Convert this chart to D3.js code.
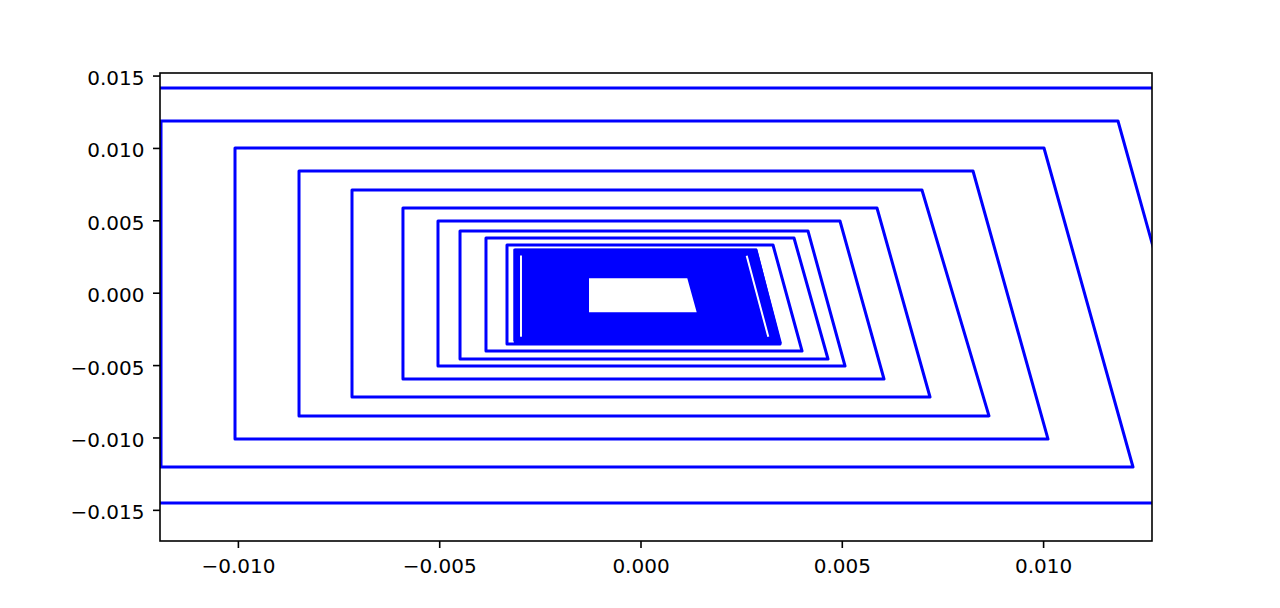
<!DOCTYPE html>
<html>
<head>
<meta charset="utf-8">
<script src="https://cdn.jsdelivr.net/npm/d3@7"></script>
<style>
  html, body { margin: 0; padding: 0; background: #fff; }
  svg text { font-family: "DejaVu Sans", sans-serif; font-size: 20px; fill: #000; }
</style>
</head>
<body>
<svg id="chart" width="1280" height="608"></svg>
<script>
// spiral loops, innermost first (K) to outermost (A)
var loopNames    = ['K', 'J', 'I', 'H', 'G', 'F', 'E', 'D', 'C', 'B', 'A'];
var bottomY      = [-0.00335, -0.003544, -0.004027, -0.004580, -0.005063, -0.005961, -0.007204, -0.008510, -0.010110, -0.012040, -0.014520];
var bottomRightX = [ 0.00310,  0.003465,  0.004012,  0.004657,  0.005080,  0.006048,  0.007191,  0.008656,  0.010122,  0.012233,  0.014506];
var leftX        = [-0.003117, -0.003316, -0.003838, -0.004483, -0.005030, -0.005900, -0.007166, -0.008482, -0.010072, -0.011910, -0.014300];
var topY         = [ 0.002950,  0.003295,  0.003778,  0.004262,  0.004953,  0.005851,  0.007094,  0.008407,  0.009996,  0.011860,  0.014140];
var topRightX    = [ 0.002869,  0.003291,  0.003813,  0.004160,  0.004955,  0.005874,  0.006991,  0.008259,  0.010022,  0.011860,  0.014100];

// the tightly wound centre, drawn as a filled ring
var denseOuter = [[-0.003154, 0.003033], [0.002894, 0.003033], [0.003515, -0.003510], [-0.003154, -0.003337]];
var denseHole  = [[-0.001279, 0.000995], [0.001162, 0.000995], [0.001396, -0.001354], [-0.001279, -0.001354]];
// thin white gaps left between loops inside the centre
var gapSegments = [
    [[-0.002969, 0.002570], [-0.002969, -0.003040]],
    [[ 0.002638, 0.002556], [ 0.003174, -0.003040]]
];

var xTicks = [-0.010, -0.005, 0.000, 0.005, 0.010];
var yTicks = [-0.015, -0.010, -0.005, 0.000, 0.005, 0.010, 0.015];
var xDomain = [-0.011935, 0.012705];
var yDomain = [-0.017152, 0.015177];

var margin = {left: 160, right: 1152, top: 73, bottom: 541};
var svg = d3.select('#chart');

var x = d3.scaleLinear().domain(xDomain).range([margin.left, margin.right]);
var y = d3.scaleLinear().domain(yDomain).range([margin.bottom, margin.top]);
var fmt = d3.format('.3f');

svg.append('defs').append('clipPath')
    .attr('id', 'plotArea')
    .append('rect')
    .attr('x', margin.left)
    .attr('y', margin.top)
    .attr('width', margin.right - margin.left)
    .attr('height', margin.bottom - margin.top);

var plot = svg.append('g').attr('clip-path', 'url(#plotArea)');

// vertices: bottom-right -> bottom-left -> top-left -> top-right, then diagonal to next loop
var pts = [];
loopNames.forEach(function (name, i) {
    pts.push([bottomRightX[i], bottomY[i]]);
    pts.push([leftX[i], bottomY[i]]);
    pts.push([leftX[i], topY[i]]);
    pts.push([topRightX[i], topY[i]]);
});

var line = d3.line()
    .x(function (d) { return x(d[0]); })
    .y(function (d) { return y(d[1]); });

plot.append('path')
    .datum(pts)
    .attr('d', line)
    .attr('fill', 'none')
    .attr('stroke', '#0000ff')
    .attr('stroke-width', 3)
    .attr('stroke-linejoin', 'round');

plot.append('path')
    .attr('d', line(denseOuter) + 'Z' + line(denseHole) + 'Z')
    .attr('fill', '#0000ff')
    .attr('fill-rule', 'evenodd')
    .attr('stroke', 'none');

plot.selectAll('.gap')
    .data(gapSegments)
    .enter().append('path')
    .attr('class', 'gap')
    .attr('d', line)
    .attr('stroke', '#ffffff')
    .attr('stroke-width', 2)
    .attr('fill', 'none');

// axes
var xAxis = d3.axisBottom(x).tickValues(xTicks).tickFormat(fmt).tickSize(7).tickPadding(7);
var yAxis = d3.axisLeft(y).tickValues(yTicks).tickFormat(fmt).tickSize(7).tickPadding(7);

var gx = svg.append('g')
    .attr('transform', 'translate(0,' + margin.bottom + ')')
    .call(xAxis);
var gy = svg.append('g')
    .attr('transform', 'translate(' + margin.left + ',0)')
    .call(yAxis);

[gx, gy].forEach(function (g) {
    g.select('.domain').remove();
    g.selectAll('.tick line').attr('stroke', '#000').attr('stroke-width', 1.6);
    g.selectAll('.tick text')
        .attr('fill', '#000')
        .style('font-family', '"DejaVu Sans", sans-serif')
        .style('font-size', '20px');
});
gx.selectAll('.tick text').attr('dy', null).attr('y', 32);
gy.selectAll('.tick text').attr('dy', '0.45em').attr('x', -15.5);

// spines
svg.append('rect')
    .attr('x', margin.left)
    .attr('y', margin.top)
    .attr('width', margin.right - margin.left)
    .attr('height', margin.bottom - margin.top)
    .attr('fill', 'none')
    .attr('stroke', '#000')
    .attr('stroke-width', 1.6);
</script>
</body>
</html>
